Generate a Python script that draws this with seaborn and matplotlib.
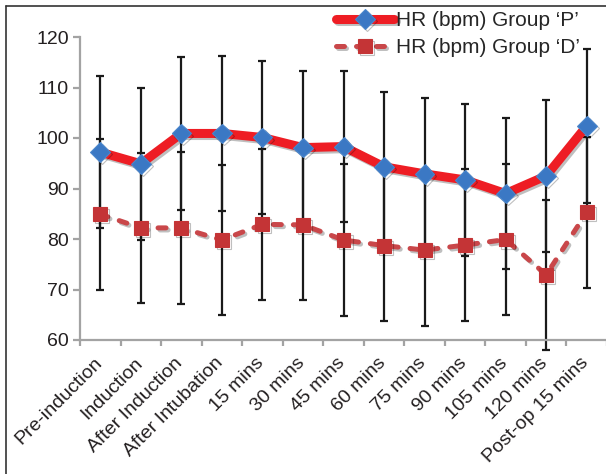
import numpy as np
import pandas as pd
import matplotlib
matplotlib.use('Agg')
import matplotlib.pyplot as plt
import matplotlib.patheffects as pe
import matplotlib.transforms as mtransforms
from matplotlib.lines import Line2D
import seaborn as sns

# time points
categories = ['Pre-induction', 'Induction', 'After Induction', 'After Intubation',
              '15 mins', '30 mins', '45 mins', '60 mins', '75 mins', '90 mins',
              '105 mins', '120 mins', 'Post-op 15 mins']

# HR group P (mean, SD)
hr_p = [97.2, 94.9, 100.9, 100.9, 100.1, 98.1, 98.3, 94.3, 92.9, 91.7, 89.0, 92.5, 102.4]
sd_p = [15.1, 15.0, 15.1, 15.3, 15.1, 15.2, 15.0, 14.9, 15.0, 15.0, 15.0, 15.1, 15.2]

# HR group D (mean, SD)
hr_d = [84.9, 82.2, 82.2, 79.8, 82.9, 82.8, 79.8, 78.7, 77.8, 78.8, 79.9, 72.9, 85.3]
sd_d = [15.0, 14.9, 15.1, 14.9, 14.9, 14.8, 15.0, 14.9, 15.0, 15.0, 15.0, 14.9, 14.95]

df = pd.DataFrame({'time': categories, 'P': hr_p, 'D': hr_d})

sns.set_style('white')
plt.rcParams['font.family'] = ['Liberation Sans', 'DejaVu Sans']

fig = plt.figure(figsize=(6.06, 4.74), dpi=100)
ax = fig.add_axes([80 / 606, 134 / 474, 527 / 606, 303 / 474])

xpos = np.arange(len(categories))
shadow = [pe.SimpleLineShadow(offset=(1.5, -1.5), alpha=0.25), pe.Normal()]

# error bars first so the markers sit on top
ax.errorbar(xpos, hr_p, yerr=sd_p, fmt='none', ecolor='#1a1a1a', elinewidth=1.6,
            capsize=3.2, capthick=1.6, zorder=1, clip_on=False)
ax.errorbar(xpos, hr_d, yerr=sd_d, fmt='none', ecolor='#1a1a1a', elinewidth=1.6,
            capsize=3.2, capthick=1.6, zorder=1, clip_on=False)

sns.lineplot(data=df, x='time', y='P', ax=ax, color='#ee1d24', lw=6.5,
             marker='D', ms=10, mfc='#3b78c4', mec='#4a86cc', mew=0.8,
             label='HR (bpm) Group \u2018P\u2019', zorder=3)
sns.lineplot(data=df, x='time', y='D', ax=ax, color='#c9474a', lw=3.6,
             marker='s', ms=10, mfc='#c43436', mec='#c43436', mew=0.8,
             label='HR (bpm) Group \u2018D\u2019', zorder=2)

lp, ld = ax.lines[-2], ax.lines[-1]
lp.set_solid_capstyle('round')
lp.set_solid_joinstyle('round')
ld.set_dashes((1.6, 2.4))
ld.set_dash_capstyle('round')
for ln in (lp, ld):
    ln.set_path_effects(shadow)
    ln.set_clip_on(False)

ax.set_xlim(-0.5, len(categories) - 0.5)
ax.set_ylim(60, 120)
ax.set_yticks(range(60, 121, 10))
ax.set_xticks(xpos)
ax.set_xticks(np.arange(-0.5, len(categories), 1), minor=True)
ax.set_xticklabels(categories, rotation=45, ha='right', rotation_mode='anchor')
ax.set_xlabel('')
ax.set_ylabel('')

for s in ['top', 'right']:
    ax.spines[s].set_visible(False)
for s in ['left', 'bottom']:
    ax.spines[s].set_color('#a3a3a3')
    ax.spines[s].set_linewidth(1.6)

ax.tick_params(axis='y', which='major', direction='out', length=5, width=1.6,
               color='#a3a3a3', labelsize=14, labelcolor='#231f20', pad=3, left=True)
ax.tick_params(axis='x', which='major', length=0, labelsize=14,
               labelcolor='#231f20', pad=4)
ax.tick_params(axis='x', which='minor', direction='out', length=4, width=1.6,
               color='#a3a3a3', bottom=True)

# nudge the rotated labels a little left/down (after tick_params, which resets transforms)
offset = mtransforms.ScaledTranslation(-7 / 100, -9 / 100, fig.dpi_scale_trans)
for lbl in ax.get_xticklabels():
    lbl.set_transform(lbl.get_transform() + offset)

ax.legend(loc='upper right', bbox_to_anchor=(580 / 606, 1 - 11 / 474),
          bbox_transform=fig.transFigure, frameon=False, fontsize=15,
          handlelength=2.8, handletextpad=0.1, labelspacing=0.4,
          borderaxespad=0, borderpad=0)

# outer frame of the figure (left and top edges visible)
fig.add_artist(Line2D([6 / 606, 6 / 606], [0, 1 - 6 / 474], color='#333333', lw=1.2))
fig.add_artist(Line2D([6 / 606, 1], [1 - 6 / 474, 1 - 6 / 474], color='#333333', lw=1.2))

fig.savefig('out.png', dpi=100)
plt.close(fig)
print('saved out.png')
